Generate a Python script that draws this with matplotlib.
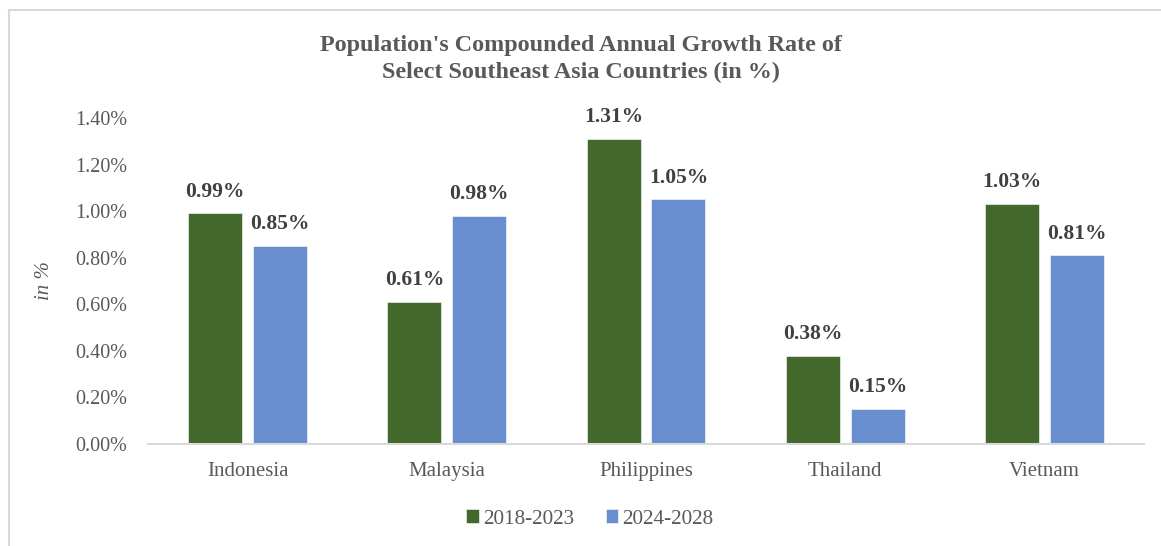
import matplotlib
matplotlib.use("Agg")
import matplotlib.pyplot as plt
import numpy as np
from matplotlib.lines import Line2D

categories = ["Indonesia", "Malaysia", "Philippines", "Thailand", "Vietnam"]
series_names = ["2018-2023", "2024-2028"]
values_2018_2023 = [0.99, 0.61, 1.31, 0.38, 1.03]
values_2024_2028 = [0.85, 0.98, 1.05, 0.15, 0.81]
yticks = [0.0, 0.2, 0.4, 0.6, 0.8, 1.0, 1.2, 1.4]

green = "#43682B"
blue = "#698ED0"
gray = "#595959"
dark = "#404040"
font = "Liberation Serif"

fig = plt.figure(figsize=(11.61, 5.46), dpi=100)
ax = fig.add_axes([148/1161, 1-444/546, (1144-148)/1161, (444-118)/546])

x = np.arange(len(categories))
w = 0.271
off = 0.163
b1 = ax.bar(x - off, values_2018_2023, w, color=green, label=series_names[0],
            edgecolor="white", linewidth=0.4)
b2 = ax.bar(x + off, values_2024_2028, w, color=blue, label=series_names[1],
            edgecolor="white", linewidth=0.4)

for bars, vals in ((b1, values_2018_2023), (b2, values_2024_2028)):
    for r, v in zip(bars, vals):
        ax.annotate(f"{v:.2f}%", (r.get_x() + r.get_width()/2, r.get_height()),
                    xytext=(0, 8.5), textcoords="offset points", ha="center", va="bottom",
                    fontsize=15.5, fontweight="bold", color=dark, family=font)

ax.set_xlim(-0.5, len(categories) - 0.5)
ax.set_ylim(0, 1.4)
ax.set_yticks(yticks)
ax.set_yticklabels([f"{t:.2f}%" for t in yticks], family=font, fontsize=14.5, color=gray)
ax.set_xticks(x)
ax.set_xticklabels(categories, family=font, fontsize=15, color=gray)
ax.tick_params(axis="both", length=0)
ax.tick_params(axis="y", pad=15)
ax.tick_params(axis="x", pad=13)
for s in ("top", "right", "left"):
    ax.spines[s].set_visible(False)
ax.spines["bottom"].set_color("#D9D9D9")
ax.spines["bottom"].set_linewidth(1.5)

ax.set_ylabel("in %", family=font, fontsize=15, style="italic", color=gray, labelpad=15)

fig.text(0.5, 1-59/546, "Population's Compounded Annual Growth Rate of\nSelect Southeast Asia Countries (in %)",
         ha="center", va="center", family=font, fontsize=17.4, fontweight="bold", color=gray,
         linespacing=1.42)

leg = fig.legend(handles=[b1, b2], labels=series_names, loc="center", bbox_to_anchor=(0.508, 1-519/546),
                 ncol=2, frameon=False, prop={"family": font, "size": 15.2},
                 handlelength=0.6, handleheight=0.6, handletextpad=0.2, columnspacing=1.5)
for t in leg.get_texts():
    t.set_color(gray)

fig.add_artist(Line2D([8.5/1161, 8.5/1161], [0, 1-10/546], color="#D9D9D9", lw=1.5, transform=fig.transFigure))
fig.add_artist(Line2D([8.5/1161, 1], [1-10/546, 1-10/546], color="#D9D9D9", lw=1.5, transform=fig.transFigure))

fig.savefig("out.png", dpi=100)
